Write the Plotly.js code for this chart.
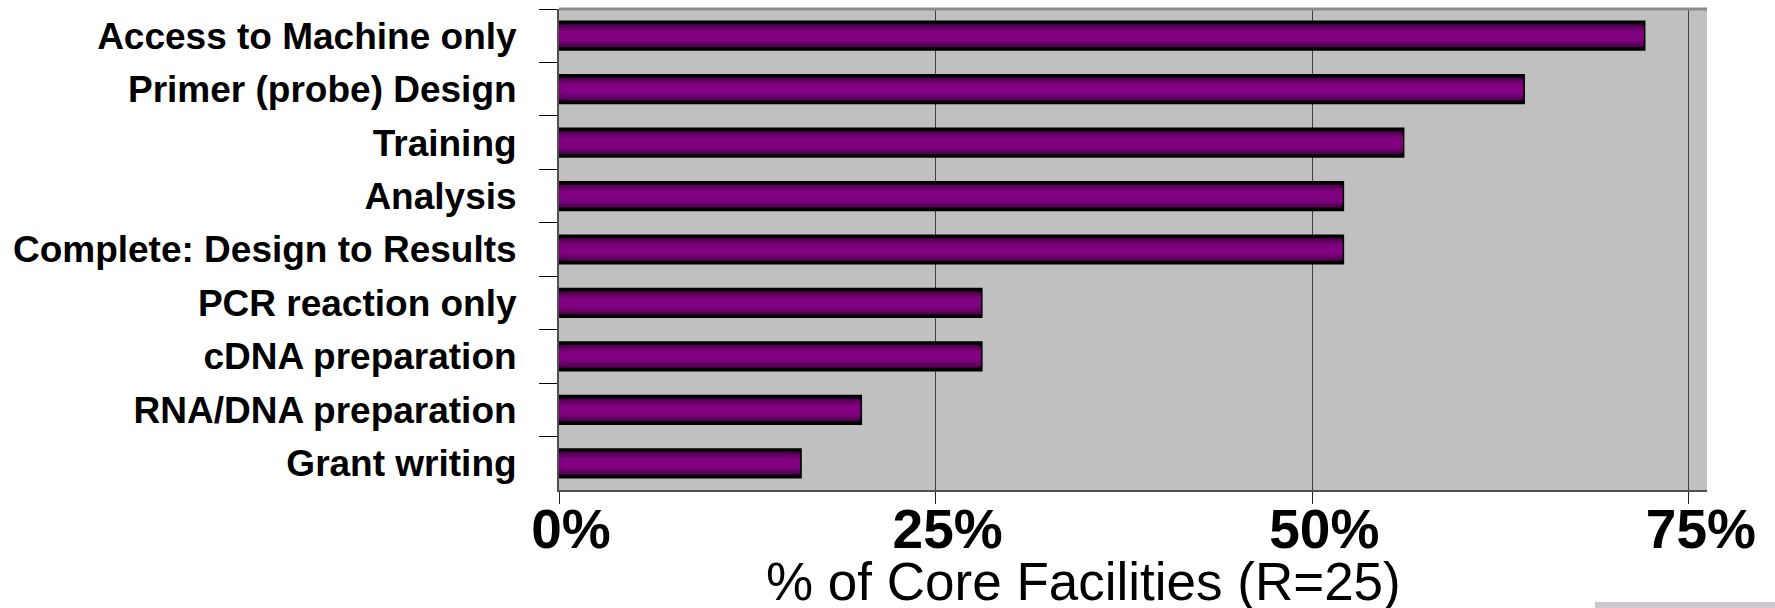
<!DOCTYPE html>
<html>
<head>
<meta charset="utf-8">
<script src="https://cdn.plot.ly/plotly-3.0.1.min.js"></script>
<style>html,body{margin:0;padding:0;background:#fff;}#chart{width:1775px;height:608px;}</style>
</head>
<body>
<div id="chart"></div>
<script>
const categories = [
  "Access to Machine only",
  "Primer (probe) Design",
  "Training",
  "Analysis",
  "Complete: Design to Results",
  "PCR reaction only",
  "cDNA preparation",
  "RNA/DNA preparation",
  "Grant writing"
];
const percentValues = [72, 64, 56, 52, 52, 28, 28, 20, 16];
const tickValues = [0, 25, 50, 75];
const tickLabels = ["0%", "25%", "50%", "75%"];
const axisTitle = "% of Core Facilities (R=25)";

const FONT = "Arial, 'Liberation Sans', sans-serif";

function layer(width, color, lineWidth) {
  return {
    type: "bar",
    orientation: "h",
    y: categories,
    x: percentValues,
    width: width,
    marker: {color: color, line: {color: "#000", width: lineWidth}},
    hoverinfo: "skip",
    showlegend: false
  };
}

const traces = [
  layer(0.5, "#3c003c", 3.5),
  layer(0.40, "#5a005a", 0),
  layer(0.30, "#6e006e", 0),
  layer(0.20, "#800080", 0)
];

const layout = {
  width: 1775,
  height: 608,
  margin: {l: 559, r: 68, t: 9, b: 118},
  paper_bgcolor: "#ffffff",
  plot_bgcolor: "#c0c0c0",
  barmode: "overlay",
  showlegend: false,
  xaxis: {
    range: [0, 76.2],
    tickvals: tickValues,
    ticktext: tickLabels,
    showgrid: true,
    gridcolor: "#404040",
    gridwidth: 1,
    zeroline: false,
    showline: true,
    linecolor: "#505050",
    linewidth: 2,
    ticks: "outside",
    ticklen: 12,
    tickwidth: 1,
    tickcolor: "#202020",
    ticklabelshift: 12,
    ticklabelstandoff: -22,
    tickfont: {family: FONT, size: 55, color: "#000", weight: "bold"}
  },
  yaxis: {
    type: "category",
    categoryorder: "array",
    categoryarray: categories,
    autorange: "reversed",
    tickson: "boundaries",
    ticks: "outside",
    ticklen: 18,
    tickwidth: 1,
    tickcolor: "#000",
    showline: true,
    linecolor: "#505050",
    linewidth: 2,
    showgrid: false,
    zeroline: false,
    ticklabelstandoff: 33,
    tickfont: {family: FONT, size: 37, color: "#000", weight: "bold"}
  },
  shapes: [
    {type: "line", xref: "paper", yref: "paper", x0: 0, x1: 1, y0: 1, y1: 1,
     line: {color: "#8c8c8c", width: 3}},
    {type: "rect", xref: "paper", yref: "paper", x0: (1595-559)/1148, x1: (1775-559)/1148,
     y0: (490-602)/481, y1: (490-610)/481, fillcolor: "#cdc6cc", line: {width: 0}}
  ],
  annotations: [
    {text: axisTitle, xref: "paper", yref: "paper", x: 0.457, y: -0.19,
     xanchor: "center", yanchor: "middle", showarrow: false,
     font: {family: FONT, size: 53, color: "#000"}}
  ]
};

Plotly.newPlot("chart", traces, layout, {displayModeBar: false, staticPlot: true});
</script>
</body>
</html>
